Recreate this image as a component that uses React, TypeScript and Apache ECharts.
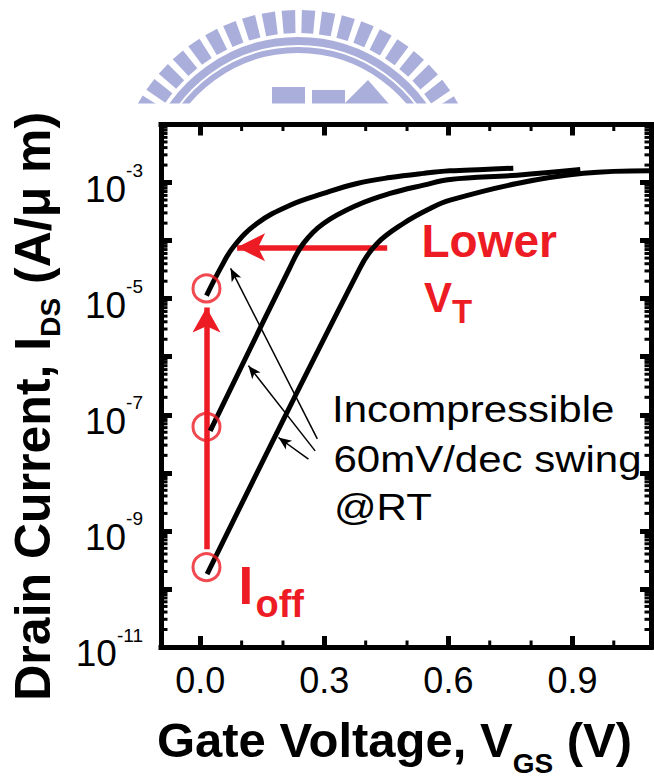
import React, { useEffect, useRef } from 'react';
import * as echarts from 'echarts';

const RED = '#ED1C24';
const LOGO = '#AAAEDB';
const FONT = '"Liberation Sans", Arial, Helvetica, sans-serif';

// Axis extents
const X_MIN = -0.095;
const X_MAX = 1.09;
const Y_MIN = 1e-11;
const Y_MAX = 1e-2;

// Ticks
const xMajorTicks = [0, 0.3, 0.6, 0.9];
const xMinorTicks = [0.1, 0.2, 0.4, 0.5, 0.7, 0.8, 1.0];
const yMinorMult = [2, 3, 4, 5, 6, 7, 8, 9];
const yDecades = [-11, -10, -9, -8, -7, -6, -5, -4, -3];

// Curves: gate voltage (V) and drain current (A/um)
const curveAV = [0.015, 0.05, 0.08, 0.137, 0.217, 0.298, 0.379, 0.459, 0.54, 0.604, 0.685, 0.757];
const curveAI = [1.13e-5, 3.46e-5, 7.76e-5, 1.97e-4, 4.07e-4, 6.49e-4, 9.64e-4, 1.22e-3, 1.44e-3, 1.59e-3, 1.68e-3, 1.77e-3];
const curveBV = [0.024, 0.217, 0.249, 0.298, 0.379, 0.459, 0.54, 0.604, 0.766, 0.919];
const curveBI = [5.3e-8, 3.46e-5, 8.87e-5, 1.97e-4, 4.07e-4, 6.49e-4, 9.02e-4, 1.13e-3, 1.34e-3, 1.68e-3];
const curveCV = [0.0165, 0.387, 0.427, 0.491, 0.556, 0.604, 0.766, 0.927, 1.088];
const curveCI = [1.8e-10, 3.46e-5, 8.87e-5, 1.97e-4, 3.57e-4, 4.97e-4, 9.64e-4, 1.44e-3, 1.59e-3];

// Ioff markers
const ioffV = [0.015, 0.015, 0.015];
const ioffI = [1.5e-5, 6.2e-8, 2.37e-10];

// Red arrows [fromV, fromI, tipV, tipI]
const ioffArrow = [0.015, 4.85e-10, 0.015, 7.05e-6];
const vtArrow = [0.452, 7.66e-5, 0.089, 7.66e-5];

// Black swing arrows [fromV, fromI, tipV, tipI]
const swingArrowA = [0.283, 3.85e-8, 0.0733, 3.33e-5];
const swingArrowB = [0.2778, 2.39e-8, 0.1164, 7.02e-7];
const swingArrowC = [0.2616, 1.72e-8, 0.189, 4.06e-8];

function zip(v: number[], i: number[]) {
  return v.map((x, k) => [x, i[k]]);
}

function buildLogo() {
  const cx = 298, cy = 194;
  const els: any[] = [];
  const rIn = 161, rOut = 184, half = 2.1;
  for (let a = 30; a <= 150.1; a += 6.3) {
    const p = (r: number, d: number) => {
      const t = (d * Math.PI) / 180;
      return [cx + r * Math.cos(t), cy - r * Math.sin(t)];
    };
    els.push({
      type: 'polygon', z: 0, silent: true,
      shape: { points: [p(rIn, a - half), p(rOut, a - half), p(rOut, a + half), p(rIn, a + half)] },
      style: { fill: LOGO },
    });
  }
  els.push({ type: 'arc', z: 0, silent: true, shape: { cx, cy, r: 153, startAngle: Math.PI * 1.1, endAngle: Math.PI * 1.9 }, style: { stroke: LOGO, lineWidth: 8, fill: 'none' } });
  els.push({ type: 'arc', z: 0, silent: true, shape: { cx, cy, r: 144, startAngle: Math.PI * 1.1, endAngle: Math.PI * 1.9 }, style: { stroke: LOGO, lineWidth: 6, fill: 'none' } });
  els.push({ type: 'rect', z: 0, silent: true, shape: { x: 272, y: 87, width: 33, height: 20 }, style: { fill: LOGO } });
  els.push({ type: 'rect', z: 0, silent: true, shape: { x: 312, y: 90, width: 33, height: 20 }, style: { fill: LOGO } });
  els.push({ type: 'polygon', z: 0, silent: true, shape: { points: [[344, 104], [368, 80], [389, 104]] }, style: { fill: LOGO } });
  // white cover below the watermark
  els.push({ type: 'rect', z: 1, silent: true, shape: { x: 0, y: 103.5, width: 654, height: 700 }, style: { fill: '#fff' } });
  return els;
}

function text(t: string, x: number, y: number, font: string, fill: string, scaleX = 1) {
  return { type: 'text', z: 10, x, y, scaleX, silent: true, style: { text: t, font, fill, align: 'left', verticalAlign: 'middle' } };
}

export default function App() {
  const ref = useRef<HTMLDivElement>(null);
  useEffect(() => {
    const chart = echarts.init(ref.current!, null, { renderer: 'svg' });

    const curve = (name: string, v: number[], i: number[], extra: any = {}) => ({
      name, type: 'line', data: zip(v, i), symbol: 'none', showSymbol: false,
      smooth: 0.4, silent: true, z: 5,
      lineStyle: { color: '#000', width: 5 }, ...extra,
    });

    const blackArrow = (a: number[]) => [
      { coord: [a[0], a[1]], symbol: 'none' },
      { coord: [a[2], a[3]], symbol: 'arrow', symbolSize: [8, 13] },
    ];

    const yMinorValues: number[] = [];
    yDecades.forEach((d) => yMinorMult.forEach((m) => yMinorValues.push(m * Math.pow(10, d))));

    const tickStyle = { color: '#000', width: 5 };
    const frameLine = { show: true, onZero: false, lineStyle: { color: '#000', width: 5, cap: 'square' } };

    const option: any = {
      animation: false,
      backgroundColor: '#fff',
      textStyle: { fontFamily: FONT },
      grid: { left: 161, top: 124.5, width: 490, height: 522.5, show: false, containLabel: false, outerBoundsMode: 'none', z: 3 },
      xAxis: [
        {
          type: 'value', position: 'bottom', min: X_MIN, max: X_MAX, z: 3,
          axisLine: frameLine, splitLine: { show: false },
          axisTick: { inside: true, length: 11, lineStyle: tickStyle, customValues: xMajorTicks },
          axisLabel: { customValues: xMajorTicks, formatter: (v: number) => v.toFixed(1), fontSize: 36, color: '#000', margin: 15, fontFamily: FONT },
          name: '{m|Gate Voltage, V}{s|GS}{m| (V)}',
          nameLocation: 'middle', nameGap: 23,
          nameTextStyle: {
            padding: [0, 23, 0, 0],
            rich: {
              m: { fontSize: 49, fontWeight: 'bold', fontFamily: FONT, color: '#000', lineHeight: 96 },
              s: { fontSize: 28, fontWeight: 'bold', fontFamily: FONT, color: '#000', lineHeight: 96, padding: [47, 0, 0, 0] },
            },
          },
        },
        {
          type: 'value', position: 'top', min: X_MIN, max: X_MAX, z: 3,
          axisLine: frameLine, splitLine: { show: false },
          axisTick: { inside: true, length: 11, lineStyle: tickStyle, customValues: xMajorTicks },
          axisLabel: { show: false },
        },
      ],
      yAxis: [
        {
          type: 'log', logBase: 10, position: 'left', min: Y_MIN, max: Y_MAX, splitNumber: 9, z: 3,
          axisLine: frameLine, splitLine: { show: false },
          axisTick: { inside: true, length: 11, lineStyle: tickStyle },
          axisLabel: {
            margin: 18, color: '#000',
            formatter: (v: number) => {
              const e = Math.round(Math.log10(v));
              return Math.abs(e) % 2 === 1 ? `{b|10}{s|${e}}` : '';
            },
            rich: {
              b: { fontSize: 37, fontFamily: FONT, color: '#000', lineHeight: 52, padding: [13, 0, 0, 0] },
              s: { fontSize: 19, fontFamily: FONT, color: '#000', lineHeight: 52, padding: [0, 0, 24, 0] },
            },
          },
          name: '{m|Drain Current, I}{s|DS}{m| (A/μ m)}',
          nameLocation: 'middle', nameGap: 18,
          nameTextStyle: {
            padding: [0, 41, 0, 0],
            rich: {
              m: { fontSize: 50, fontWeight: 'bold', fontFamily: FONT, color: '#000', lineHeight: 96 },
              s: { fontSize: 28, fontWeight: 'bold', fontFamily: FONT, color: '#000', lineHeight: 96, padding: [36, 0, 0, 0] },
            },
          },
        },
        {
          type: 'log', logBase: 10, position: 'right', min: Y_MIN, max: Y_MAX, splitNumber: 9, z: 3,
          axisLine: frameLine, splitLine: { show: false },
          axisTick: { inside: true, length: 11, lineStyle: tickStyle },
          axisLabel: { show: false },
        },
      ],
      series: [
        curve('Device A', curveAV, curveAI),
        curve('Device B', curveBV, curveBI),
        curve('Device C', curveCV, curveCI, {
          markLine: {
            silent: true, symbol: ['none', 'arrow'], label: { show: false },
            emphasis: { disabled: true },
            lineStyle: { color: '#000', width: 1.5, type: 'solid' },
            itemStyle: { color: '#000' },
            data: [blackArrow(swingArrowA), blackArrow(swingArrowB), blackArrow(swingArrowC)],
          },
        }),
        {
          name: 'Ioff', type: 'scatter', data: zip(ioffV, ioffI), symbol: 'circle', symbolSize: 27, z: 6, silent: true,
          itemStyle: { color: 'rgba(0,0,0,0)', borderColor: RED, borderWidth: 3 },
          markLine: {
            silent: true, symbol: ['none', 'arrow'], label: { show: false },
            emphasis: { disabled: true },
            lineStyle: { color: RED, width: 5.5, type: 'solid' },
            itemStyle: { color: RED },
            data: [
              [{ coord: [ioffArrow[0], ioffArrow[1]], symbol: 'none' }, { coord: [ioffArrow[2], ioffArrow[3]], symbol: 'arrow', symbolSize: [21, 25] }],
              [{ coord: [vtArrow[0], vtArrow[1]], symbol: 'none' }, { coord: [vtArrow[2], vtArrow[3]], symbol: 'arrow', symbolSize: [21, 28] }],
            ],
          },
        },
        {
          name: 'yMinorTicks', type: 'custom', silent: true, z: 5,
          data: yMinorValues.map((v) => [X_MIN, v]),
          renderItem: (_p: any, api: any) => {
            const v = api.value(1);
            const l = api.coord([X_MIN, v]);
            const r = api.coord([X_MAX, v]);
            return {
              type: 'group', children: [
                { type: 'line', shape: { x1: l[0], y1: l[1], x2: l[0] + 6.5, y2: l[1] }, style: { stroke: '#000', lineWidth: 3 } },
                { type: 'line', shape: { x1: r[0], y1: r[1], x2: r[0] - 6.5, y2: r[1] }, style: { stroke: '#000', lineWidth: 3 } },
              ],
            };
          },
        },
        {
          name: 'xMinorTicks', type: 'custom', silent: true, z: 5,
          data: xMinorTicks.map((v) => [v, Y_MIN]),
          renderItem: (_p: any, api: any) => {
            const v = api.value(0);
            const b = api.coord([v, Y_MIN]);
            const t = api.coord([v, Y_MAX]);
            return {
              type: 'group', children: [
                { type: 'line', shape: { x1: b[0], y1: b[1], x2: b[0], y2: b[1] - 6.5 }, style: { stroke: '#000', lineWidth: 3 } },
                { type: 'line', shape: { x1: t[0], y1: t[1], x2: t[0], y2: t[1] + 6.5 }, style: { stroke: '#000', lineWidth: 3 } },
              ],
            };
          },
        },
      ],
      graphic: [
        ...buildLogo(),
        text('Lower', 421.5, 241, `bold 46px ${FONT}`, RED),
        text('V', 424, 297, `bold 42px ${FONT}`, RED),
        text('T', 452, 311.6, `bold 33px ${FONT}`, RED),
        text('I', 238.5, 585, `bold 53px ${FONT}`, RED),
        text('off', 255.5, 603.5, `bold 38px ${FONT}`, RED),
        text('Incompressible', 332, 409, `37.5px ${FONT}`, '#000', 1.12),
        text('60mV/dec swing', 333.5, 459, `37.5px ${FONT}`, '#000', 1.12),
        text('@RT', 334, 507, `37.5px ${FONT}`, '#000', 1.12),
      ],
    };

    chart.setOption(option);
    return () => chart.dispose();
  }, []);

  return <div ref={ref} style={{ position: 'fixed', left: 0, top: 0, width: 654, height: 780 }} />;
}
